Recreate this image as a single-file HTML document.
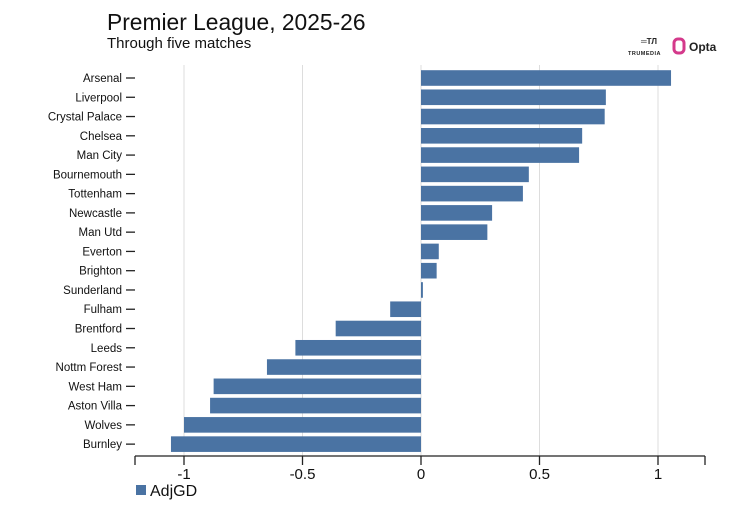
<!DOCTYPE html>
<html><head><meta charset="utf-8"><style>
body{margin:0;background:#fff;width:750px;height:500px;overflow:hidden;font-family:"Liberation Sans",sans-serif}
</style></head><body>
<svg width="750" height="500" xmlns="http://www.w3.org/2000/svg">
<text x="107" y="30" font-size="22.8" fill="#111">Premier League, 2025-26</text>
<text x="107" y="48" font-size="15" fill="#111">Through five matches</text>
<g>
<text x="641" y="44" font-size="8" font-weight="bold" fill="#222">═ТЛ</text>
<text x="628" y="55" font-size="5.5" font-weight="bold" fill="#222" letter-spacing="0.5">TRUMEDIA</text>
</g>
<g>
<rect x="674" y="39" width="10" height="14" rx="4" fill="none" stroke="#d4398b" stroke-width="3"/>
<text x="689" y="51" font-size="12" font-weight="bold" fill="#222">Opta</text>
</g>
<g id="grid"></g><g id="bars"></g><g id="axes"></g>
<rect x="136" y="485" width="10" height="10" fill="#4a73a3"/>
<text x="150" y="496" font-size="16" fill="#111">AdjGD</text>
</svg>
<script>
const teams=["Arsenal","Liverpool","Crystal Palace","Chelsea","Man City","Bournemouth","Tottenham","Newcastle","Man Utd","Everton","Brighton","Sunderland","Fulham","Brentford","Leeds","Nottm Forest","West Ham","Aston Villa","Wolves","Burnley"];
const adjGD=[1.055,0.78,0.775,0.68,0.667,0.455,0.43,0.30,0.28,0.075,0.066,0.008,-0.13,-0.36,-0.53,-0.65,-0.875,-0.89,-1.0,-1.055];
const xTicks=[-1,-0.5,0,0.5,1];
const xTickLabels=["-1","-0.5","0","0.5","1"];
const NS="http://www.w3.org/2000/svg";
const x=v=>421+v*237;
const y=i=>78+i*19.27;
function mk(p,t,a){const e=document.createElementNS(NS,t);for(const k in a)e.setAttribute(k,a[k]);p.appendChild(e);return e;}
const G=document.getElementById('grid'),B=document.getElementById('bars'),A=document.getElementById('axes');
xTicks.forEach((v,i)=>{
 if(v!==0){const g=mk(G,'line',{x1:x(v),x2:x(v),y1:65,y2:456,stroke:'#ddd','stroke-width':1});
 
 }
 const t=mk(A,'line',{x1:x(v),x2:x(v),y1:456,y2:465,stroke:'#222','stroke-width':1.3});
 
 
 const l=mk(A,'text',{x:x(v),y:479,'text-anchor':'middle','font-size':15,fill:'#111'});
 l.textContent=xTickLabels[i];
 
 
});
const zl=mk(G,'line',{x1:x(0),x2:x(0),y1:65,y2:456,stroke:'#ddd','stroke-width':1});


teams.forEach((t,i)=>{
 const v=adjGD[i],x0=Math.min(x(0),x(v)),w=Math.max(Math.abs(x(v)-x(0)),1);
 const r=mk(B,'rect',{x:x0,y:y(i)-7.8,width:w,height:15.6,fill:'#4a73a3'});
 
 
 const tk=mk(A,'line',{x1:126,x2:135,y1:y(i),y2:y(i),stroke:'#222','stroke-width':1.3});
 
 
 const lb=mk(A,'text',{x:122,y:y(i)+4,'text-anchor':'end','font-size':11.5,fill:'#111'});
 lb.textContent=t;
 
 
});
const ax=mk(A,'line',{x1:135,x2:705,y1:456,y2:456,stroke:'#222','stroke-width':1.3});


[135,705].forEach(px=>{const e=mk(A,'line',{x1:px,x2:px,y1:456,y2:465,stroke:'#222','stroke-width':1.3});

});
</script>
</body></html>
